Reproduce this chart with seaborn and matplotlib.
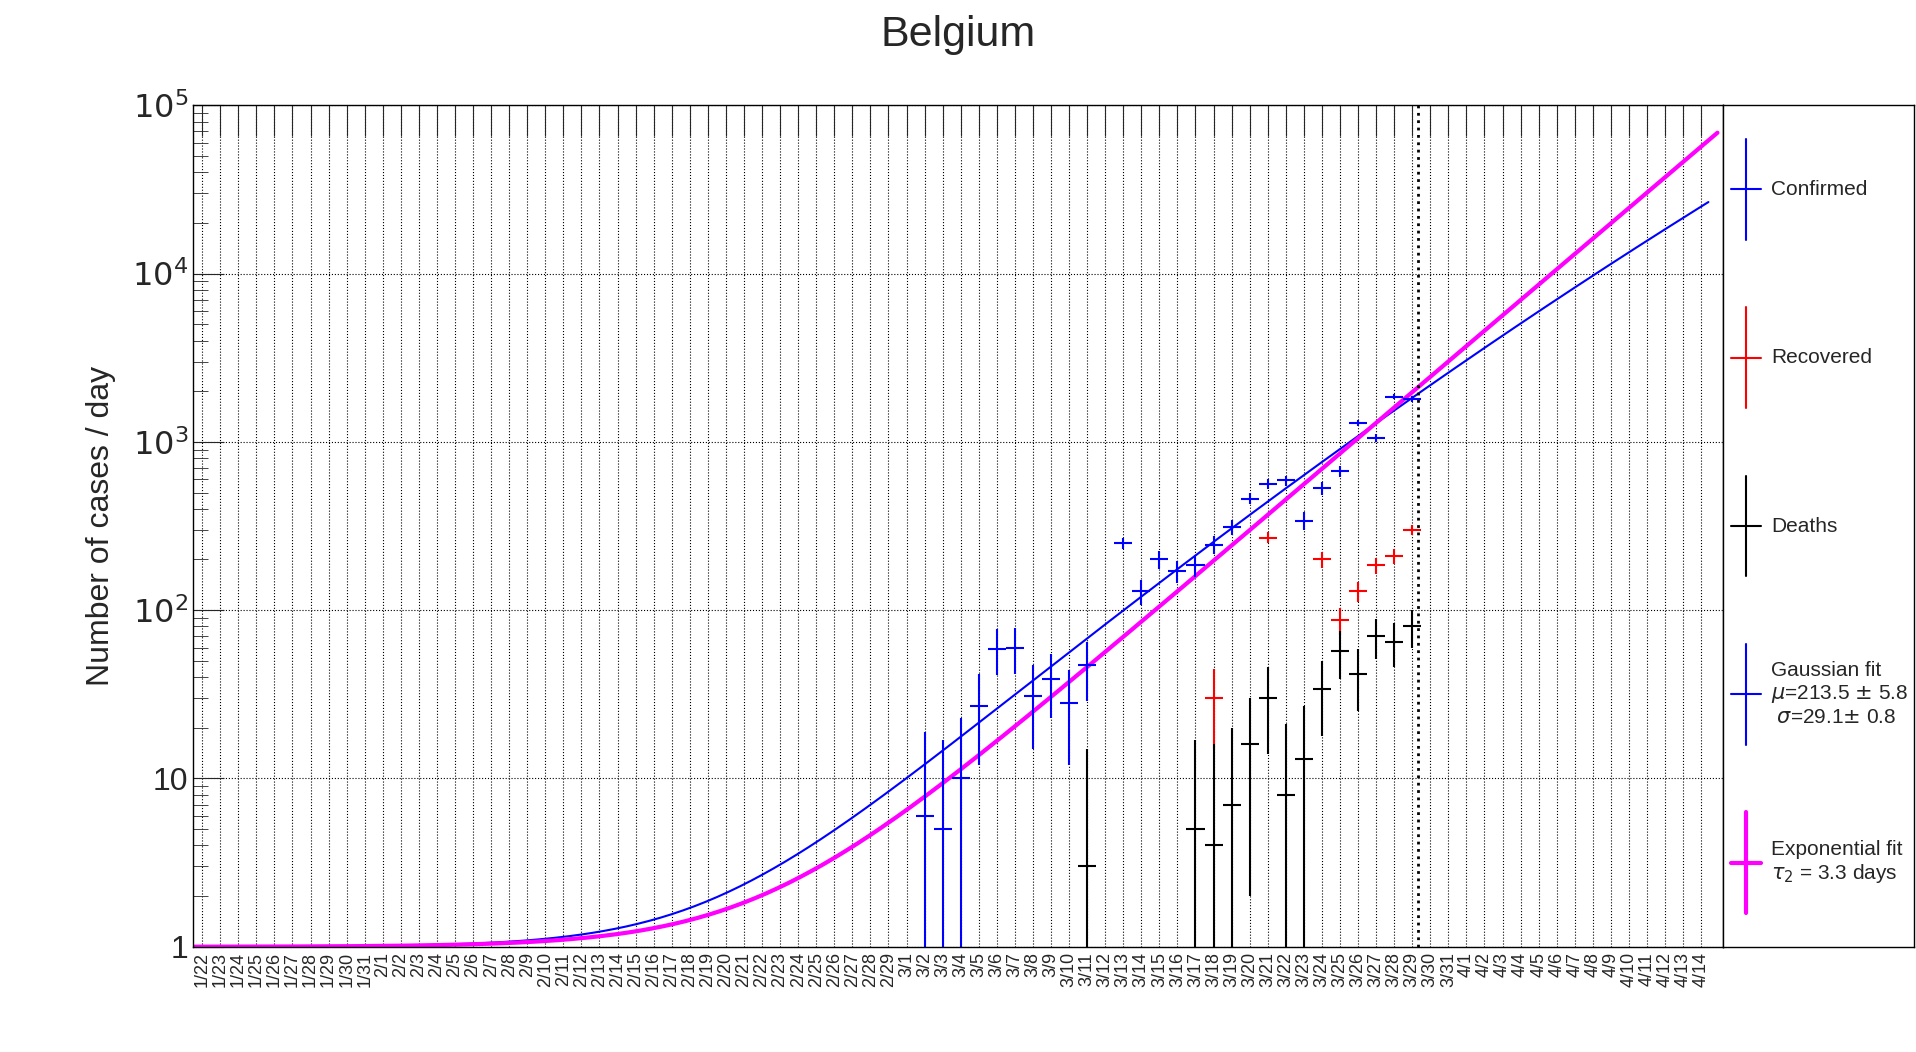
import numpy as np
import pandas as pd
import matplotlib
matplotlib.use('Agg')
import matplotlib.pyplot as plt
import seaborn as sns

dates = pd.date_range('2020-01-22', '2020-04-14')
date_labels = [f"{d.month}/{d.day}" for d in dates]

# day index (0 = 1/22) and daily values
conf_day = [40, 41, 42, 43, 44, 45, 46, 47, 48, 49, 51, 52, 53, 54, 55, 56, 57, 58, 59, 60, 61, 62, 63, 64, 65, 66, 67]
conf_val = [6, 5, 10, 27, 59, 60, 31, 39, 28, 47, 250, 130, 200, 170, 185, 245, 310, 460, 560, 590, 340, 530, 670, 1300, 1050, 1850, 1800]
conf_err = [13, 12, 13, 15, 18, 18, 16, 16, 16, 18, 20, 22, 25, 25, 27, 30, 32, 35, 38, 40, 42, 45, 50, 55, 58, 62, 65]

rec_day = [56, 59, 62, 63, 64, 65, 66, 67]
rec_val = [30, 270, 200, 87, 130, 185, 210, 300]
rec_err = [15, 20, 22, 16, 18, 20, 21, 22]

death_day = [49, 55, 56, 57, 58, 59, 60, 61, 62, 63, 64, 65, 66, 67]
death_val = [3, 5, 4, 7, 16, 30, 8, 13, 34, 57, 42, 70, 65, 80]
death_err = [12, 12, 12, 13, 14, 16, 13, 14, 16, 18, 17, 19, 19, 20]

gaus_mu, gaus_sigma, gaus_end = 213.5, 29.1, 25000.0
tau2, exp_anchor_day, exp_anchor_val = 3.3, 64, 1050.0

sns.set_style('white')
plt.rcParams['font.family'] = ['Liberation Sans', 'DejaVu Sans']

fig = plt.figure(figsize=(19.16, 10.52), dpi=100)
ax = fig.add_axes([0.1008, 0.1, 0.7984, 0.8])

# fit curves
t = np.linspace(-0.5, 83.4, 400)
lnC = np.log(gaus_end) + (83 - gaus_mu) ** 2 / (2 * gaus_sigma ** 2)
gaus = 1 + np.exp(lnC - (t - gaus_mu) ** 2 / (2 * gaus_sigma ** 2))
t2 = np.linspace(-0.5, 83.9, 400)
expo = 1 + exp_anchor_val * np.exp(np.log(2) / tau2 * (t2 - exp_anchor_day))
sns.lineplot(x=t, y=gaus, ax=ax, color='blue', linewidth=1.5)
sns.lineplot(x=t2, y=expo, ax=ax, color='magenta', linewidth=3)

def pts(days, vals, errs, col):
    v = np.array(vals, float)
    e = np.array(errs, float)
    lo = np.minimum(e, v - 1e-3)
    ax.errorbar(days, v, yerr=[lo, e], xerr=0.5, fmt='none', ecolor=col, elinewidth=1.5)

pts(conf_day, conf_val, conf_err, 'blue')
pts(rec_day, rec_val, rec_err, 'red')
pts(death_day, death_val, death_err, 'black')

ax.axvline(67.3, color='black', linestyle=':', linewidth=2)
ax.set_yscale('log')
ax.set_ylim(1, 1e5)
ax.set_xlim(-0.5, 84.2)
ax.set_xticks(range(len(date_labels)))
ax.set_xticklabels(date_labels, rotation=90, fontsize=13)
ax.set_yticks([1, 10, 100, 1e3, 1e4, 1e5])
ax.set_yticklabels(['1', '10', r'$10^2$', r'$10^3$', r'$10^4$', r'$10^5$'], fontsize=23)
ax.tick_params(axis='x', direction='in', length=22, top=True, width=0.8, pad=4)
ax.tick_params(axis='y', which='both', direction='in', left=True)
ax.tick_params(axis='y', which='major', length=22)
ax.tick_params(axis='y', which='minor', length=11)
ax.grid(True, which='major', color='black', linestyle=':', linewidth=0.8)
for s in ax.spines.values():
    s.set_color('black'); s.set_linewidth(1)
ax.set_ylabel('Number of cases / day', fontsize=23, labelpad=12)
fig.text(0.5, 0.967, 'Belgium', ha='center', va='center', fontsize=31)

# legend panel
lg = fig.add_axes([0.8992, 0.1, 0.1, 0.8])
lg.set_xlim(0, 1); lg.set_ylim(0, 1)
lg.set_xticks([]); lg.set_yticks([])
for s in lg.spines.values():
    s.set_color('black'); s.set_linewidth(1)
entries = [('blue', 'Confirmed', 1.5), ('red', 'Recovered', 1.5), ('black', 'Deaths', 1.5),
           ('blue', 'Gaussian fit\n' + r'$\mu$=213.5 $\pm$ 5.8' + '\n' + r' $\sigma$=29.1$\pm$ 0.8', 1.5),
           ('magenta', 'Exponential fit\n' + r'$\tau_2$ = 3.3 days', 3)]
for i, (c, txt, lw) in enumerate(entries):
    yc = 0.9 - i * 0.2
    lg.plot([0.12, 0.12], [yc - 0.06, yc + 0.06], color=c, lw=lw)
    lg.plot([0.04, 0.2], [yc, yc], color=c, lw=lw)
    lg.text(0.25, yc, txt, va='center', ha='left', fontsize=15, linespacing=1.2)

fig.savefig('out.png', dpi=100)
